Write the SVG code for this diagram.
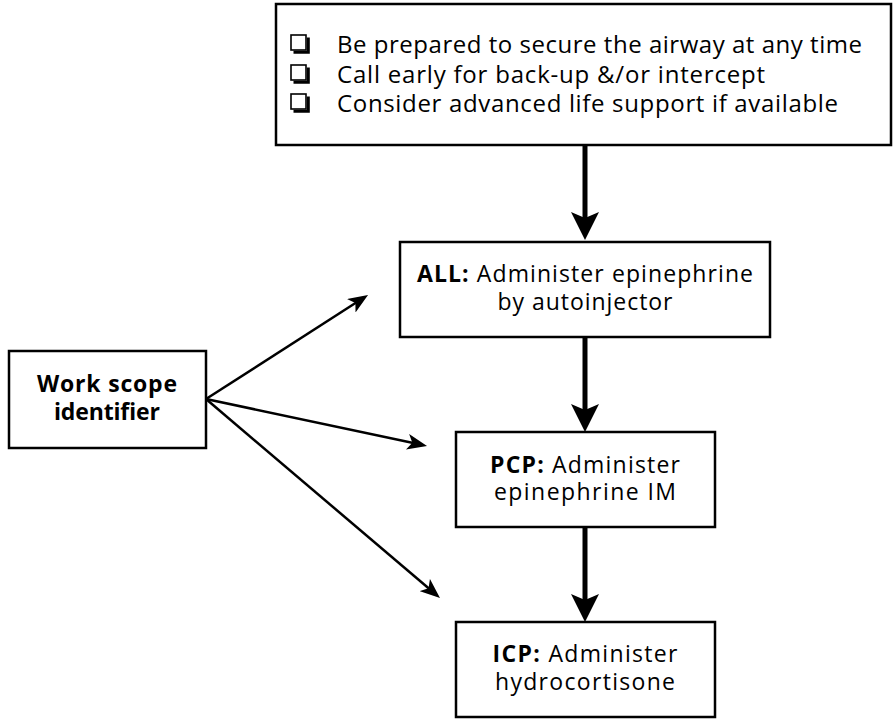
<svg xmlns="http://www.w3.org/2000/svg" width="894" height="721" viewBox="0 0 894 721">
<style>
.box{fill:#fff;stroke:#000;stroke-width:2.5}
.t{font-family:"Open Sans","Liberation Sans",sans-serif;fill:#000}
.top{font-size:24px}
.mid{font-size:23px;text-anchor:middle}
.b{font-weight:bold}
.thin{stroke:#000;stroke-width:2.5;fill:none}
.thick{stroke:#000;stroke-width:5;fill:none}
.cb{fill:#fff;stroke:#000;stroke-width:1.6}
</style>
<defs>
<marker id="ah" viewBox="0 0 20 16" refX="12" refY="8" markerWidth="20" markerHeight="16" markerUnits="userSpaceOnUse" orient="auto">
<path d="M0,0 L20,8 L0,16 L5,8 Z" fill="#000"/>
</marker>
<marker id="ahb" viewBox="0 0 28 28" refX="18" refY="14" markerWidth="28" markerHeight="28" markerUnits="userSpaceOnUse" orient="auto">
<path d="M0,0 L28,14 L0,28 L6,14 Z" fill="#000"/>
</marker>
<g id="checkbox">
<rect class="cb" x="0" y="0" width="15" height="15"/>
<path d="M15.8,2.5 h3 v16.3 h-16.3 v-3 h13.3 z" fill="#000"/>
</g>
</defs>

<g id="connectors">
<line class="thick" x1="585" y1="145" x2="585" y2="230" marker-end="url(#ahb)"/>
<line class="thick" x1="585" y1="337" x2="585" y2="422" marker-end="url(#ahb)"/>
<line class="thick" x1="585" y1="527" x2="585" y2="612" marker-end="url(#ahb)"/>
<line class="thin" x1="206" y1="399" x2="361.3" y2="299.3" marker-end="url(#ah)"/>
<line class="thin" x1="206" y1="399" x2="419.2" y2="444.3" marker-end="url(#ah)"/>
<line class="thin" x1="206" y1="399" x2="433.9" y2="592.8" marker-end="url(#ah)"/>
</g>

<g id="precautions">
<rect class="box" x="276" y="4" width="615" height="141"/>
<use href="#checkbox" x="291" y="35"/>
<use href="#checkbox" x="291" y="65"/>
<use href="#checkbox" x="291" y="94"/>
<text class="t top" x="337" y="53" textLength="525">Be prepared to secure the airway at any time</text>
<text class="t top" x="337" y="83" textLength="428">Call early for back-up &amp;/or intercept</text>
<text class="t top" x="337" y="112" textLength="501">Consider advanced life support if available</text>
</g>

<g id="all">
<rect class="box" x="400" y="242" width="370" height="95"/>
<text class="t mid" x="585" y="282" textLength="336"><tspan class="b">ALL:</tspan> Administer epinephrine</text>
<text class="t mid" x="585" y="310" textLength="175">by autoinjector</text>
</g>

<g id="work-scope">
<rect class="box" x="9" y="351" width="197" height="97"/>
<text class="t mid b" x="107" y="392" textLength="140">Work scope</text>
<text class="t mid b" x="107" y="420" textLength="106">identifier</text>
</g>

<g id="pcp">
<rect class="box" x="456" y="432" width="259" height="95"/>
<text class="t mid" x="585" y="473" textLength="190"><tspan class="b">PCP:</tspan> Administer</text>
<text class="t mid" x="585" y="500" textLength="182">epinephrine IM</text>
</g>

<g id="icp">
<rect class="box" x="456" y="622" width="259" height="95"/>
<text class="t mid" x="585" y="662" textLength="185"><tspan class="b">ICP:</tspan> Administer</text>
<text class="t mid" x="585" y="690" textLength="180">hydrocortisone</text>
</g>
</svg>
